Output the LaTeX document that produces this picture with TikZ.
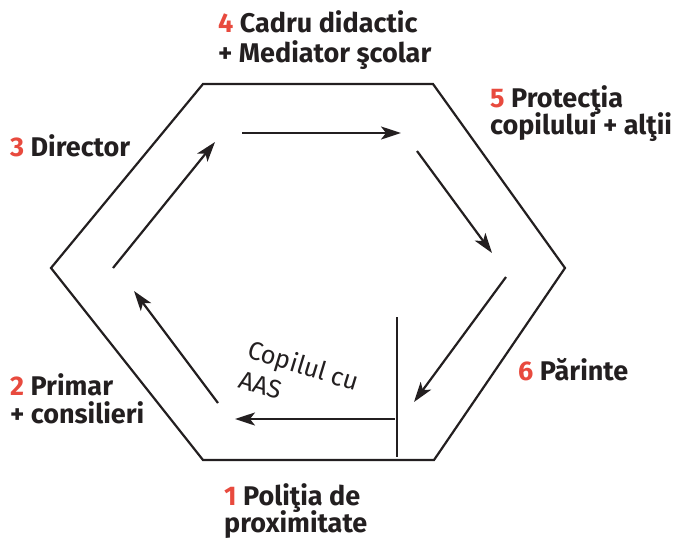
\documentclass[tikz,border=0pt]{standalone}
\usepackage{fontspec}
\setmainfont{Fira Sans}
\usepackage{tikz}
\usetikzlibrary{arrows.meta}
\definecolor{numred}{HTML}{E84A3E}
\definecolor{inkblack}{HTML}{231F20}
\newcommand{\stepnr}[1]{\textcolor{numred}{#1}}

\begin{document}
\begin{tikzpicture}[
      x=1pt, y=-1pt,
      >={Stealth[length=20pt, width=13pt, inset=5pt]},
      hexline/.style={draw=inkblack, line width=2.2pt, line join=miter},
      flow/.style={->, draw=inkblack, line width=2.2pt},
      actor/.style={
        anchor=base west, align=left, inner sep=0pt,
        font=\fontsize{27}{28}\selectfont\bfseries, text=inkblack,
      },
      childtext/.style={
        anchor=base west, align=left, inner sep=0pt, rotate=-17,
        font=\fontsize{25.5}{31}\selectfont, text=inkblack,
      }
    ]
      \useasboundingbox (0,0) rectangle (675,544);

      % hexagon corners
      \coordinate (h1) at (203,84);
      \coordinate (h2) at (433,84);
      \coordinate (h3) at (565,268);
      \coordinate (h4) at (434,460);
      \coordinate (h5) at (203,460);
      \coordinate (h6) at (51,268);
      \draw[hexline] (h1) -- (h2) -- (h3) -- (h4) -- (h5) -- (h6) -- cycle;

      % arrow ends
      \coordinate (a1) at (218,403);  \coordinate (a2) at (134,291);
      \coordinate (b1) at (113,268);  \coordinate (b2) at (215,142);
      \coordinate (c1) at (242,133);  \coordinate (c2) at (401,133);
      \coordinate (d1) at (417,151);  \coordinate (d2) at (492,253);
      \coordinate (e1) at (506,277);  \coordinate (e2) at (414,402);
      \coordinate (f1) at (395,419);  \coordinate (f2) at (235,419);
      \coordinate (bartop) at (397,317);
      \coordinate (barbot) at (397,457);

      % draw arrows
      \draw[flow] (a1) -- (a2);
      \draw[flow] (b1) -- (b2);
      \draw[flow] (c1) -- (c2);
      \draw[flow] (d1) -- (d2);
      \draw[flow] (e1) -- (e2);
      \draw[flow] (f1) -- (f2);
      \draw[hexline] (bartop) -- (barbot);

      % actors (anchored at the last line)
      \node[actor] (police) at (224,532) {\stepnr{1} Poliţia de\\[-3pt]proximitate};
      \node[actor] (mayor) at (10,423) {\stepnr{2} Primar\\+ consilieri};
      \node[actor] (director) at (10,156) {\stepnr{3} Director};
      \node[actor] (teacher) at (218,62) {\stepnr{4} Cadru didactic\\[2pt]+ Mediator şcolar};
      \node[actor] (protect) at (490,134) {\stepnr{5} Protecţia\\[-3pt]copilului + alţii};
      \node[actor] (parent) at (518,380) {\stepnr{6} Părinte};

      % the child
      \node[childtext] (child) at (237,387) {Copilul cu\\AAS};
    \end{tikzpicture}
\end{document}
